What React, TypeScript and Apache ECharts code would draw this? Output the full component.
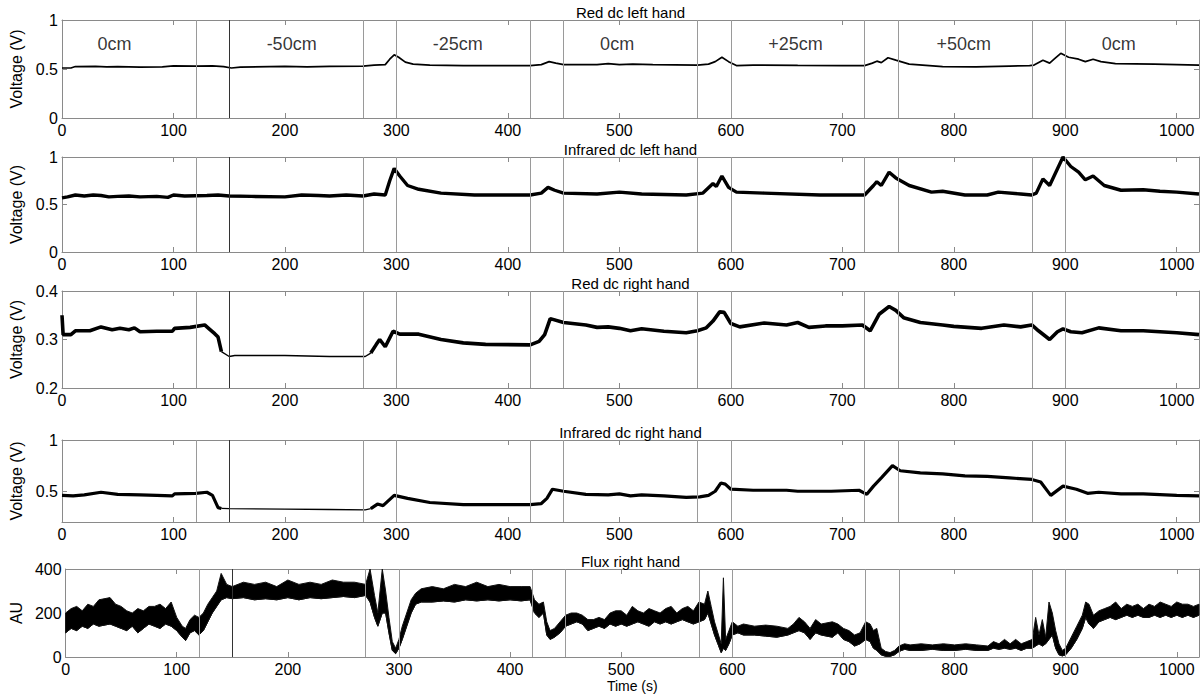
import React, { useEffect, useRef } from "react";
import * as echarts from "echarts";

// ---------- data ----------
const xTicks = [0, 100, 200, 300, 400, 500, 600, 700, 800, 900, 1000];
const vLines = [120, 150, 270, 300, 420, 450, 570, 600, 720, 750, 870, 900];
const titles = ["Red dc left hand", "Infrared dc left hand", "Red dc right hand", "Infrared dc right hand", "Flux right hand"];
const yTicks = [[0, 0.5, 1], [0, 0.5, 1], [0.2, 0.3, 0.4], [0.5, 1], [0, 200, 400]];
const yMins = [0, 0, 0.2, 0.2, 0];
const yMaxs = [1, 1, 0.4, 1, 400];
const yNames = ["Voltage (V)", "Voltage (V)", "Voltage (V)", "Voltage (V)", "AU"];

const segLabels = ["0cm", "-50cm", "-25cm", "0cm", "+25cm", "+50cm", "0cm"];
const segLabelX = [47, 206, 355, 498, 658, 809, 948];
const segLabelY = 0.76;

// quiet (thin-trace) stretch of the right-hand voltage signals
const quietRange = [143, 277];

const redLeft = [
  [0, 0.51], [8, 0.51], [12, 0.525], [30, 0.527], [40, 0.522], [50, 0.525], [70, 0.52], [90, 0.522], [100, 0.532], [120, 0.53], [135, 0.532],
  [145, 0.525], [152, 0.51], [160, 0.52], [200, 0.527], [220, 0.522], [240, 0.527], [270, 0.53], [280, 0.54], [290, 0.545], [294, 0.6],
  [298, 0.645], [302, 0.62], [308, 0.57], [315, 0.55], [330, 0.54], [360, 0.535], [400, 0.535], [420, 0.535], [430, 0.545],
  [437, 0.575], [443, 0.56], [450, 0.545], [480, 0.545], [490, 0.555], [500, 0.545], [512, 0.55], [530, 0.545], [570, 0.54],
  [580, 0.55], [586, 0.575], [592, 0.62], [598, 0.575], [605, 0.535], [620, 0.54], [660, 0.537], [700, 0.535], [720, 0.535], [727, 0.56],
  [731, 0.58], [735, 0.565], [741, 0.615], [748, 0.59], [760, 0.55], [790, 0.525], [820, 0.522], [850, 0.53], [868, 0.535],
  [872, 0.54], [880, 0.59], [886, 0.56], [890, 0.6], [896, 0.66], [903, 0.62], [912, 0.6], [918, 0.575], [925, 0.6],
  [932, 0.575], [945, 0.555], [980, 0.55], [1020, 0.54],
];

const irLeft = [
  [0, 0.57], [5, 0.58], [12, 0.6], [20, 0.59], [28, 0.6], [35, 0.595], [42, 0.58], [50, 0.585], [60, 0.59], [70, 0.58], [85, 0.585], [95, 0.575], [100, 0.6], [110, 0.59],
  [130, 0.595], [140, 0.6], [150, 0.59], [170, 0.585], [200, 0.58], [215, 0.6], [230, 0.595], [240, 0.59], [255, 0.6], [270, 0.59], [280, 0.61], [290, 0.6],
  [294, 0.75], [298, 0.88], [303, 0.8], [310, 0.7], [320, 0.66], [340, 0.62], [370, 0.6], [400, 0.6], [420, 0.6], [430, 0.62],
  [436, 0.68], [442, 0.65], [450, 0.62], [480, 0.61], [500, 0.63], [520, 0.61], [560, 0.6], [575, 0.62], [584, 0.72],
  [587, 0.69], [592, 0.8], [598, 0.68], [605, 0.63], [630, 0.62], [680, 0.6], [720, 0.6], [728, 0.7], [731, 0.74], [735, 0.7],
  [742, 0.84], [748, 0.78], [760, 0.7], [780, 0.63], [790, 0.64], [810, 0.6], [830, 0.6], [840, 0.63], [860, 0.61], [870, 0.6],
  [874, 0.62], [880, 0.77], [886, 0.7], [892, 0.85], [898, 1.0], [905, 0.9], [912, 0.84], [918, 0.76], [925, 0.8], [935, 0.7],
  [950, 0.65], [970, 0.655], [985, 0.64], [1000, 0.63], [1020, 0.61],
];

const redRight = [
  [0, 0.35], [1, 0.31], [8, 0.31], [12, 0.318], [25, 0.318], [35, 0.326], [45, 0.32], [52, 0.323], [60, 0.32], [65, 0.324], [70, 0.316], [85, 0.317],
  [99, 0.317], [101, 0.323], [115, 0.325], [128, 0.33], [132, 0.322], [137, 0.312], [140, 0.305], [143, 0.275], [150, 0.265],
  [155, 0.267], [200, 0.267], [240, 0.265], [272, 0.265], [277, 0.272], [282, 0.29], [285, 0.3], [290, 0.285], [297, 0.317],
  [303, 0.311], [320, 0.311], [340, 0.3], [360, 0.293], [380, 0.29], [420, 0.289], [428, 0.296], [433, 0.31], [438, 0.343],
  [450, 0.335], [470, 0.33], [480, 0.325], [490, 0.326], [500, 0.323], [510, 0.318], [520, 0.322], [540, 0.317], [560, 0.314], [570, 0.318],
  [578, 0.324], [584, 0.338], [590, 0.357], [594, 0.356], [600, 0.333], [608, 0.326], [630, 0.334], [650, 0.33], [660, 0.335],
  [670, 0.325], [685, 0.328], [700, 0.328], [718, 0.33], [725, 0.318], [733, 0.352], [742, 0.368], [748, 0.36], [755, 0.345],
  [770, 0.335], [790, 0.33], [800, 0.327], [825, 0.323], [845, 0.33], [860, 0.326], [870, 0.33], [876, 0.318], [886, 0.3],
  [893, 0.316], [898, 0.322], [905, 0.316], [915, 0.314], [930, 0.324], [950, 0.318], [970, 0.318], [1000, 0.314], [1020, 0.31],
];

const irRight = [
  [0, 0.46], [10, 0.455], [20, 0.465], [35, 0.49], [50, 0.47], [70, 0.465], [85, 0.46], [99, 0.455], [101, 0.475], [120, 0.48],
  [130, 0.49], [135, 0.46], [140, 0.34], [143, 0.332], [150, 0.33], [200, 0.325], [240, 0.322], [272, 0.318], [277, 0.33], [283, 0.375],
  [288, 0.36], [298, 0.46], [310, 0.43], [330, 0.39], [360, 0.37], [400, 0.37], [420, 0.37], [430, 0.38], [435, 0.43],
  [440, 0.52], [450, 0.5], [470, 0.47], [490, 0.465], [500, 0.475], [510, 0.455], [520, 0.465], [540, 0.455], [560, 0.44],
  [572, 0.445], [580, 0.46], [586, 0.5], [591, 0.58], [595, 0.57], [600, 0.52], [620, 0.51], [650, 0.51], [660, 0.5],
  [690, 0.5], [715, 0.51], [722, 0.47], [728, 0.55], [735, 0.63], [745, 0.75], [752, 0.7], [770, 0.68], [790, 0.67],
  [810, 0.65], [830, 0.645], [850, 0.63], [870, 0.615], [878, 0.59], [887, 0.46], [898, 0.55], [910, 0.52], [920, 0.48],
  [930, 0.49], [950, 0.475], [970, 0.475], [1000, 0.46], [1020, 0.455],
];

// flux: [time, lower edge, upper edge] of the noisy trace
const fluxBand = [
  [0, 110, 200], [5, 130, 220], [10, 120, 230], [15, 140, 210], [20, 130, 240], [25, 150, 230], [30, 140, 260], [40, 150, 270],
  [45, 140, 240], [50, 130, 230], [55, 120, 210], [60, 140, 200], [65, 110, 220], [70, 130, 210], [75, 150, 230], [80, 140, 230],
  [85, 130, 240], [90, 150, 220], [95, 140, 250], [100, 120, 180], [105, 90, 140], [108, 75, 130], [112, 110, 170],
  [116, 120, 190], [120, 100, 180], [124, 120, 200], [128, 160, 240], [132, 200, 270], [136, 230, 300], [140, 260, 380],
  [145, 270, 330], [150, 265, 320], [160, 270, 340], [170, 260, 330], [180, 265, 340], [190, 260, 320], [200, 270, 350],
  [210, 260, 330], [220, 270, 340], [230, 265, 330], [240, 270, 350], [250, 275, 340], [260, 270, 340], [270, 280, 330],
  [274, 250, 400], [278, 180, 280], [281, 140, 200], [285, 200, 400], [288, 200, 300], [291, 110, 180], [294, 30, 70],
  [297, 15, 40], [300, 40, 80], [303, 80, 140], [307, 140, 200], [311, 200, 260], [315, 240, 290], [320, 250, 310],
  [330, 250, 320], [340, 255, 310], [350, 250, 330], [360, 260, 320], [370, 255, 340], [380, 260, 320], [390, 255, 330],
  [400, 260, 320], [410, 255, 320], [418, 260, 320], [422, 200, 260], [426, 180, 240], [430, 200, 250], [433, 100, 160],
  [436, 80, 120], [440, 90, 130], [445, 110, 160], [450, 140, 190], [455, 150, 200], [460, 160, 200], [465, 150, 190],
  [470, 120, 170], [475, 130, 170], [480, 140, 180], [485, 130, 170], [490, 150, 200], [495, 140, 210], [500, 150, 210],
  [505, 140, 190], [510, 150, 230], [515, 160, 210], [520, 150, 200], [525, 140, 220], [530, 160, 210], [535, 150, 200],
  [540, 160, 220], [545, 150, 230], [550, 160, 200], [555, 170, 220], [560, 160, 230], [565, 150, 210], [570, 160, 250],
  [575, 170, 240], [578, 200, 300], [581, 150, 230], [584, 100, 160], [587, 60, 110], [590, 20, 60], [592, 40, 360],
  [594, 30, 80], [597, 60, 120], [600, 100, 160], [605, 110, 140], [610, 100, 150], [620, 100, 140], [630, 95, 145],
  [640, 90, 140], [650, 100, 130], [655, 110, 150], [660, 120, 180], [665, 110, 160], [670, 80, 130], [675, 110, 170],
  [680, 100, 150], [690, 90, 160], [695, 110, 150], [700, 80, 130], [705, 70, 120], [710, 50, 100], [715, 60, 110],
  [720, 80, 160], [724, 70, 150], [727, 40, 120], [730, 30, 130], [734, 10, 40], [738, 3, 25], [742, 3, 20], [746, 10, 30],
  [750, 25, 50], [755, 35, 60], [760, 30, 55], [770, 30, 60], [780, 35, 55], [790, 30, 60], [800, 30, 55], [810, 35, 60],
  [820, 30, 55], [830, 30, 50], [835, 40, 70], [840, 35, 60], [845, 40, 80], [850, 35, 60], [855, 40, 80], [860, 30, 60],
  [865, 40, 70], [870, 40, 80], [873, 50, 180], [876, 60, 100], [879, 50, 170], [882, 60, 90], [885, 80, 250], [888, 100, 200],
  [891, 40, 120], [894, 10, 60], [897, 5, 30], [900, 10, 40], [905, 40, 90], [910, 80, 140], [915, 130, 190], [918, 180, 250],
  [921, 150, 240], [925, 130, 190], [930, 160, 210], [935, 170, 220], [940, 180, 230], [945, 170, 250], [950, 180, 220],
  [955, 190, 240], [960, 180, 230], [965, 190, 240], [970, 180, 220], [975, 180, 240], [980, 190, 230], [985, 180, 250],
  [990, 190, 240], [995, 180, 230], [1000, 190, 250], [1005, 180, 240], [1010, 190, 240], [1015, 180, 230], [1020, 190, 240],
];

// ---------- layout ----------
const LEFT = 62;
const WIDTH = 1137;
const gridBoxes = [
  { top: 20, height: 98 },
  { top: 157, height: 95 },
  { top: 291, height: 97 },
  { top: 440, height: 82 },
  { top: 569, height: 88 },
];
const FONT = "'Liberation Sans', Arial, Helvetica, sans-serif";
const FRAME = "#8a8a8a";

const inQuiet = (t: number) => t > quietRange[0] && t < quietRange[1];
const loud = (d: number[][]) => d.map((p) => (inQuiet(p[0]) ? [p[0], null] : p));
const quiet = (d: number[][]) => d.filter((p) => p[0] >= quietRange[0] && p[0] <= quietRange[1]);

function buildOption() {
  const grid: any[] = [];
  const xAxis: any[] = [];
  const yAxis: any[] = [];
  const title: any[] = [];
  const series: any[] = [];

  gridBoxes.forEach((g, i) => {
    grid.push({ left: LEFT, width: WIDTH, top: g.top, height: g.height, containLabel: false });
    title.push({
      text: titles[i],
      left: LEFT + WIDTH / 2,
      textAlign: "center",
      top: g.top - 15,
      padding: 0,
      textStyle: { fontFamily: FONT, fontSize: 15, fontWeight: "normal", color: "#000" },
    });
    const tickStyle = { show: true, inside: true, length: 5, lineStyle: { color: FRAME, width: 1 } };
    xAxis.push({
      type: "value", gridIndex: i, min: 0, max: 1020, position: "bottom",
      axisLine: { show: true, onZero: false, lineStyle: { color: FRAME, width: 1 } },
      axisTick: { ...tickStyle, customValues: xTicks },
      axisLabel: {
        show: true, customValues: xTicks, color: "#000", fontSize: 16, fontFamily: FONT, margin: 4,
        formatter: (v: number) => String(v),
      },
      splitLine: { show: false },
      name: i === 4 ? "Time (s)" : "",
      nameLocation: "middle",
      nameGap: 22,
      nameTextStyle: { color: "#000", fontSize: 14, fontFamily: FONT },
    });
    xAxis.push({
      type: "value", gridIndex: i, min: 0, max: 1020, position: "top",
      axisLine: { show: true, onZero: false, lineStyle: { color: FRAME, width: 1 } },
      axisTick: { ...tickStyle, customValues: xTicks },
      axisLabel: { show: false },
      splitLine: { show: false },
    });
    yAxis.push({
      type: "value", gridIndex: i, min: yMins[i], max: yMaxs[i], position: "left",
      axisLine: { show: true, onZero: false, lineStyle: { color: FRAME, width: 1 } },
      axisTick: { ...tickStyle, customValues: yTicks[i] },
      axisLabel: {
        show: true, customValues: yTicks[i], color: "#000", fontSize: 16, fontFamily: FONT, margin: 4,
        formatter: (v: number) => String(v),
      },
      splitLine: { show: false },
      name: yNames[i],
      nameLocation: "middle",
      nameGap: 27,
      nameTextStyle: { color: "#000", fontSize: 16, fontFamily: FONT },
    });
    yAxis.push({
      type: "value", gridIndex: i, min: yMins[i], max: yMaxs[i], position: "right",
      axisLine: { show: true, onZero: false, lineStyle: { color: FRAME, width: 1 } },
      axisTick: { ...tickStyle, customValues: yTicks[i] },
      axisLabel: { show: false },
      splitLine: { show: false },
    });
  });

  const markLine = {
    silent: true,
    symbol: ["none", "none"],
    label: { show: false },
    lineStyle: { color: "#9a9a9a", width: 1, type: "solid" },
    data: vLines.map((v) => ({ xAxis: v, lineStyle: { color: v === 150 ? "#333" : "#9a9a9a", width: 1, type: "solid" } })),
  };

  const lineSeries = (data: any[], i: number, w: number, withMarks: boolean) => ({
    type: "line",
    xAxisIndex: 2 * i,
    yAxisIndex: 2 * i,
    data,
    showSymbol: false,
    symbol: "none",
    connectNulls: false,
    lineStyle: { color: "#000", width: w },
    markLine: withMarks ? markLine : undefined,
    z: 3,
  });

  series.push(lineSeries(redLeft, 0, 1.7, true));
  series.push(lineSeries(irLeft, 1, 3.4, true));
  series.push(lineSeries(loud(redRight), 2, 3.6, true));
  series.push(lineSeries(quiet(redRight), 2, 1.4, false));
  series.push(lineSeries(loud(irRight), 3, 3.2, true));
  series.push(lineSeries(quiet(irRight), 3, 1.3, false));

  // lower edge of the flux trace (also carries the event markers)
  series.push({
    type: "line",
    xAxisIndex: 8,
    yAxisIndex: 8,
    data: fluxBand.map((d) => [d[0], d[1]]),
    showSymbol: false,
    symbol: "none",
    lineStyle: { color: "#000", width: 1 },
    markLine,
    z: 2,
  });
  // filled band between the lower and upper edges of the flux trace
  series.push({
    type: "custom",
    xAxisIndex: 8,
    yAxisIndex: 8,
    data: [[fluxBand[0][0], fluxBand[0][1]]],
    clip: true,
    z: 3,
    renderItem: (params: any, api: any) => {
      const upper = fluxBand.map((d) => api.coord([d[0], d[2]]));
      const lower = fluxBand.slice().reverse().map((d) => api.coord([d[0], d[1]]));
      return {
        type: "polygon",
        shape: { points: upper.concat(lower) },
        style: { fill: "#000", stroke: "#111", lineWidth: 1 },
      };
    },
  });

  // segment labels of plot 1
  series.push({
    type: "scatter",
    xAxisIndex: 0,
    yAxisIndex: 0,
    symbol: "circle",
    symbolSize: 0,
    itemStyle: { color: "rgba(0,0,0,0)" },
    data: segLabels.map((s, k) => ({ name: s, value: [segLabelX[k], segLabelY] })),
    label: {
      show: true,
      position: "inside",
      formatter: (p: any) => p.name,
      color: "#000",
      fontSize: 18,
      fontFamily: FONT,
    },
    labelLayout: { hideOverlap: false },
    z: 5,
  });

  return {
    animation: false,
    backgroundColor: "#fff",
    textStyle: { fontFamily: FONT },
    title,
    grid,
    xAxis,
    yAxis,
    series,
  };
}

export default function App() {
  const ref = useRef<HTMLDivElement>(null);
  useEffect(() => {
    if (!ref.current) return;
    const chart = echarts.init(ref.current, undefined, { renderer: "svg" });
    chart.setOption(buildOption() as any);
    return () => chart.dispose();
  }, []);
  return (
    <div
      ref={ref}
      style={{ position: "fixed", left: 0, top: 0, width: 1201, height: 696, background: "#fff" }}
    />
  );
}
